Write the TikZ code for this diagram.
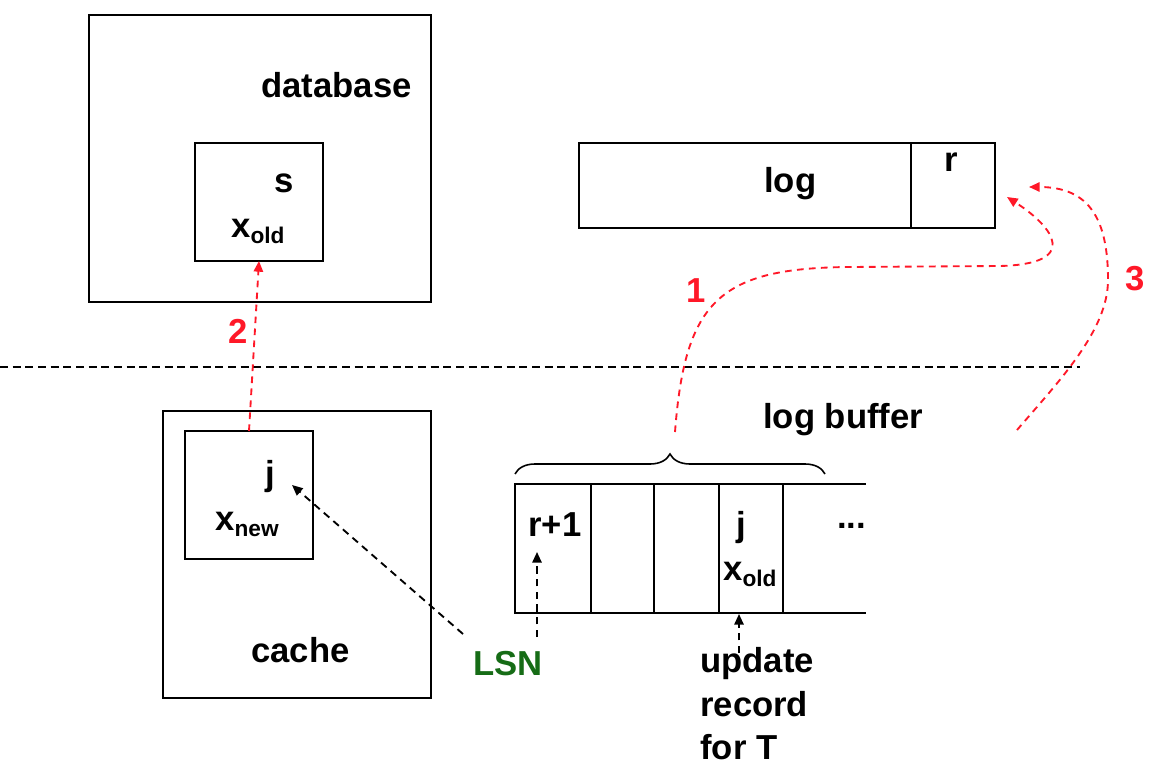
\documentclass[tikz,border=0pt]{standalone}
\usepackage{fontspec}
\setmainfont{Liberation Sans}
\usetikzlibrary{arrows.meta,decorations.pathreplacing}
\definecolor{arrred}{RGB}{255,24,40}
\definecolor{lsngreen}{RGB}{22,108,22}
\newcommand\subtxt[1]{\raisebox{-5pt}{\fontsize{17pt}{17pt}\selectfont #1}}
\begin{document}
\begin{tikzpicture}[x=0.75pt,y=-0.75pt,
  box/.style={draw,line width=1.5pt,inner sep=0pt,outer sep=0pt},
  lbl/.style={inner sep=0pt,anchor=base west,font=\fontsize{26pt}{30pt}\selectfont\bfseries},
  numlbl/.style={lbl,text=arrred},
  redarrow/.style={draw=arrred,line width=1.4pt,dash pattern=on 5pt off 4pt,-{Triangle[length=8pt,width=7pt]}},
  blkarrow/.style={draw=black,line width=1.4pt,dash pattern=on 5.5pt off 4pt,-{Triangle[length=8pt,width=7pt]}},
  sepline/.style={draw=black,line width=1.3pt,dash pattern=on 6pt off 3.5pt}]
\useasboundingbox (0,0) rectangle (1176,784);

% database
\node[box,minimum width=256.5pt,minimum height=215.25pt] (db) at (260,158.5) {};
\node[lbl] (dblbl) at (261,98) {database};
\node[box,minimum width=96pt,minimum height=88.5pt] (sbox) at (259,202) {};
\node[lbl] (slbl) at (274,193) {s};
\node[lbl] (xold) at (231,237) {x\subtxt{old}};

% log
\node[box,minimum width=249pt,minimum height=63.75pt] (logmain) at (745,185.5) {};
\node[box,minimum width=63pt,minimum height=63.75pt] (rcell) at (953,185.5) {};
\node[lbl] (loglbl) at (764,193) {log};
\node[lbl] (rlbl) at (944,172) {r};

% separator
\coordinate (sepL) at (0,367);
\coordinate (sepR) at (1080,367);
\draw[sepline] (sepL) -- (sepR);

% cache
\node[box,minimum width=201pt,minimum height=215.25pt] (cache) at (297,554.5) {};
\node[box,minimum width=96pt,minimum height=96pt] (jbox) at (249,495) {};
\node[lbl] (jlbl) at (265,485) {j};
\node[lbl] (xnew) at (215,530) {x\subtxt{new}};
\node[lbl] (cachelbl) at (251,662) {cache};

% log buffer
\node[lbl] (lbuflbl) at (763,428) {log buffer};
\node[box,minimum width=57pt,minimum height=96.75pt] (c1) at (553,548.5) {};
\node[box,minimum width=47.25pt,minimum height=96.75pt] (c2) at (622.5,548.5) {};
\node[box,minimum width=48.75pt,minimum height=96.75pt] (c3) at (686.5,548.5) {};
\node[box,minimum width=48pt,minimum height=96.75pt] (c4) at (751,548.5) {};
\coordinate (openT) at (866,484);
\coordinate (openB) at (866,613);
\draw[line width=1.5pt] (c4.north east) -- (openT);
\draw[line width=1.5pt] (c4.south east) -- (openB);
\node[lbl] (rp1) at (528,536) {r+1};
\node[lbl] (jcell) at (736,536) {j};
\node[lbl] (xoldcell) at (723,580) {x\subtxt{old}};
\node[lbl] (dots) at (837,528) {...};

% brace
\coordinate (brL) at (515,474);
\coordinate (brR) at (825,474);
\draw[line width=1.2pt,decorate,decoration={brace,amplitude=15pt,aspect=0.5}] (brL) -- (brR);

% LSN and update record
\node[lbl,text=lsngreen] (lsn) at (473,675) {LSN};
\node[lbl] (upd1) at (700,672) {update};
\node[lbl] (upd2) at (700,716) {record};
\node[lbl] (upd3) at (700,759) {for T};

% black arrows
\coordinate (lsnA) at (463,634);
\coordinate (jtip) at (292,485);
\draw[blkarrow] (lsnA) -- (jtip);
\coordinate (lsnB) at (537,637);
\coordinate (rptip) at (537,552);
\draw[blkarrow] (lsnB) -- (rptip);
\coordinate (updA) at (739,653);
\coordinate (updtip) at (739,614);
\draw[blkarrow] (updA) -- (updtip);

% red arrow 2
\draw[redarrow] (jbox.north) -- (sbox.south);
\node[numlbl] (n2) at (228,343) {2};

% red arrow 1
\coordinate (a1s) at (675,432);
\coordinate (a1m) at (850,267);
\coordinate (a1n) at (1000,266);
\coordinate (a1e) at (1007,197);
\draw[redarrow] (a1s) .. controls (685,300) and (720,268) .. (a1m) -- (a1n) .. controls (1080,264) and (1055,228) .. (a1e);
\node[numlbl] (n1) at (686,302) {1};

% red arrow 3
\coordinate (a3s) at (1017,430);
\coordinate (a3m) at (1108,280);
\coordinate (a3e) at (1029,187);
\draw[redarrow] (a3s) .. controls (1060,380) and (1108,330) .. (a3m) .. controls (1108,220) and (1090,187) .. (a3e);
\node[numlbl] (n3) at (1125,290) {3};
\end{tikzpicture}
\end{document}
